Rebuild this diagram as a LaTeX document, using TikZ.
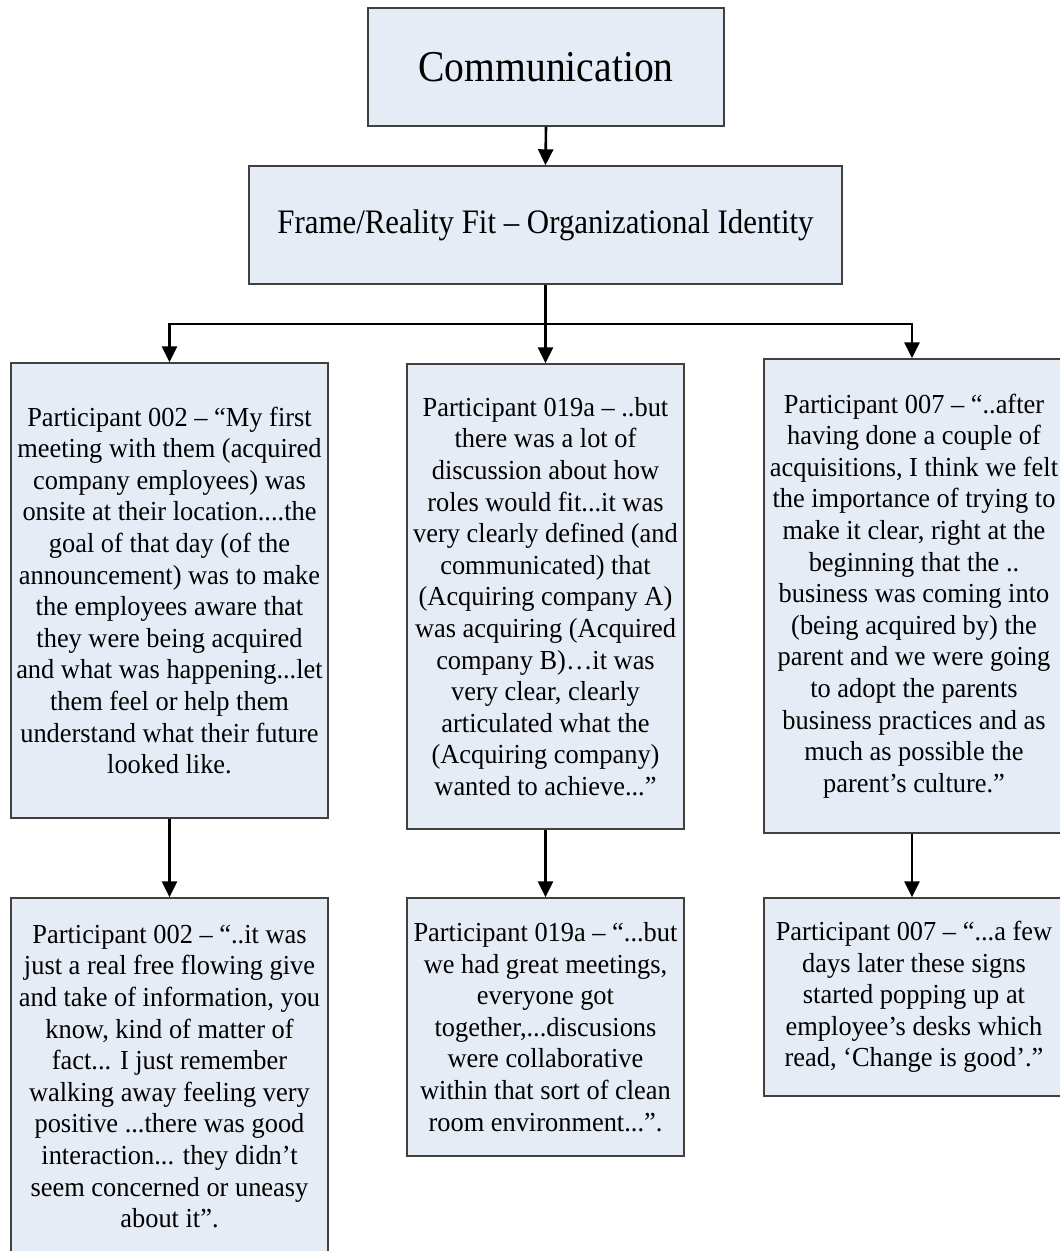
\documentclass[tikz,border=0pt]{standalone}
\usepackage{fontspec}
\setmainfont{Liberation Serif}
\newfontfamily\bodyfont[FakeStretch=0.96]{Liberation Serif}
\newfontfamily\headfont[FakeStretch=0.90]{Liberation Serif}
\usetikzlibrary{arrows.meta}
\definecolor{boxfill}{HTML}{E6ECF6}
\definecolor{boxline}{HTML}{404040}
\tikzset{
  box/.style={draw=boxline, line width=1.4pt, fill=boxfill, inner sep=0pt,
    align=center, font=\bodyfont\fontsize{27.5}{31.6}\selectfont},
  link/.style={line width=2.6pt, -{Triangle[width=15pt,length=16pt]}},
  bar/.style={line width=2.6pt}
}
\begin{document}
\begin{tikzpicture}[x=1pt,y=-1pt]
\useasboundingbox (0,0) rectangle (1060,1251);
\clip (0,0) rectangle (1060,1251);

% top levels
\node[box, minimum width=356pt, minimum height=118pt,
      font=\headfont\fontsize{44}{50}\selectfont] (comm) at (546,67) {Communication};
\node[box, minimum width=593pt, minimum height=118pt,
      font=\headfont\fontsize{34.3}{40}\selectfont] (frame) at (545.5,225)
      {Frame/Reality Fit – Organizational Identity};

% first row of quotes
\node[box, minimum width=317pt, minimum height=455pt] (l1) at (169.5,590.5)
{Participant 002 – “My first\\
meeting with them (acquired\\
company employees) was\\
onsite at their location....the\\
goal of that day (of the\\
announcement) was to make\\
the employees aware that\\
they were being acquired\\
and what was happening...let\\
them feel or help them\\
understand what their future\\
looked like.};

\node[box, minimum width=277pt, minimum height=465pt] (m1) at (545.5,596.5)
{Participant 019a – ..but\\
there was a lot of\\
discussion about how\\
roles would fit...it was\\
very clearly defined (and\\
communicated) that\\
(Acquiring company A)\\
was acquiring (Acquired\\
company B)…it was\\
very clear, clearly\\
articulated what the\\
(Acquiring company)\\
wanted to achieve...”};

% the right column runs off the right edge of the page
\node[box, minimum width=300pt, minimum height=474pt] (r1) at (914,596)
{Participant 007 – “..after\\
having done a couple of\\
acquisitions, I think we felt\\
the importance of trying to\\
make it clear, right at the\\
beginning that the ..\\
business was coming into\\
(being acquired by) the\\
parent and we were going\\
to adopt the parents\\
business practices and as\\
much as possible the\\
parent’s culture.”};

% second row of quotes
\node[box, minimum width=317pt, minimum height=357pt] (l2) at (169.5,1076.5)
{Participant 002 – “..it was\\
just a real free flowing give\\
and take of information, you\\
know, kind of matter of\\
fact... I just remember\\
walking away feeling very\\
positive ...there was good\\
interaction... they didn’t\\
seem concerned or uneasy\\
about it”.};

\node[box, minimum width=277pt, minimum height=258pt] (m2) at (545.5,1027)
{Participant 019a – “...but\\
we had great meetings,\\
everyone got\\
together,...discusions\\
were collaborative\\
within that sort of clean\\
room environment...”.};

\node[box, minimum width=300pt, minimum height=198pt] (r2) at (914,997)
{Participant 007 – “...a few\\
days later these signs\\
started popping up at\\
employee’s desks which\\
read, ‘Change is good’.”};

% connectors
\coordinate (bus) at (545.5,324);
\coordinate (rdrop) at (912,0);
\draw[link] (comm.south) -- (frame.north);
\draw[bar] (frame.south) -- (bus);
\draw[link] (bus) -| (l1.north);
\draw[link] (bus) -- (m1.north);
\draw[link] (bus) -| (rdrop |- r1.north);
\draw[link] (l1.south) -- (l2.north);
\draw[link] (m1.south) -- (m2.north);
\draw[link] (rdrop |- r1.south) -- (rdrop |- r2.north);
\end{tikzpicture}
\end{document}
